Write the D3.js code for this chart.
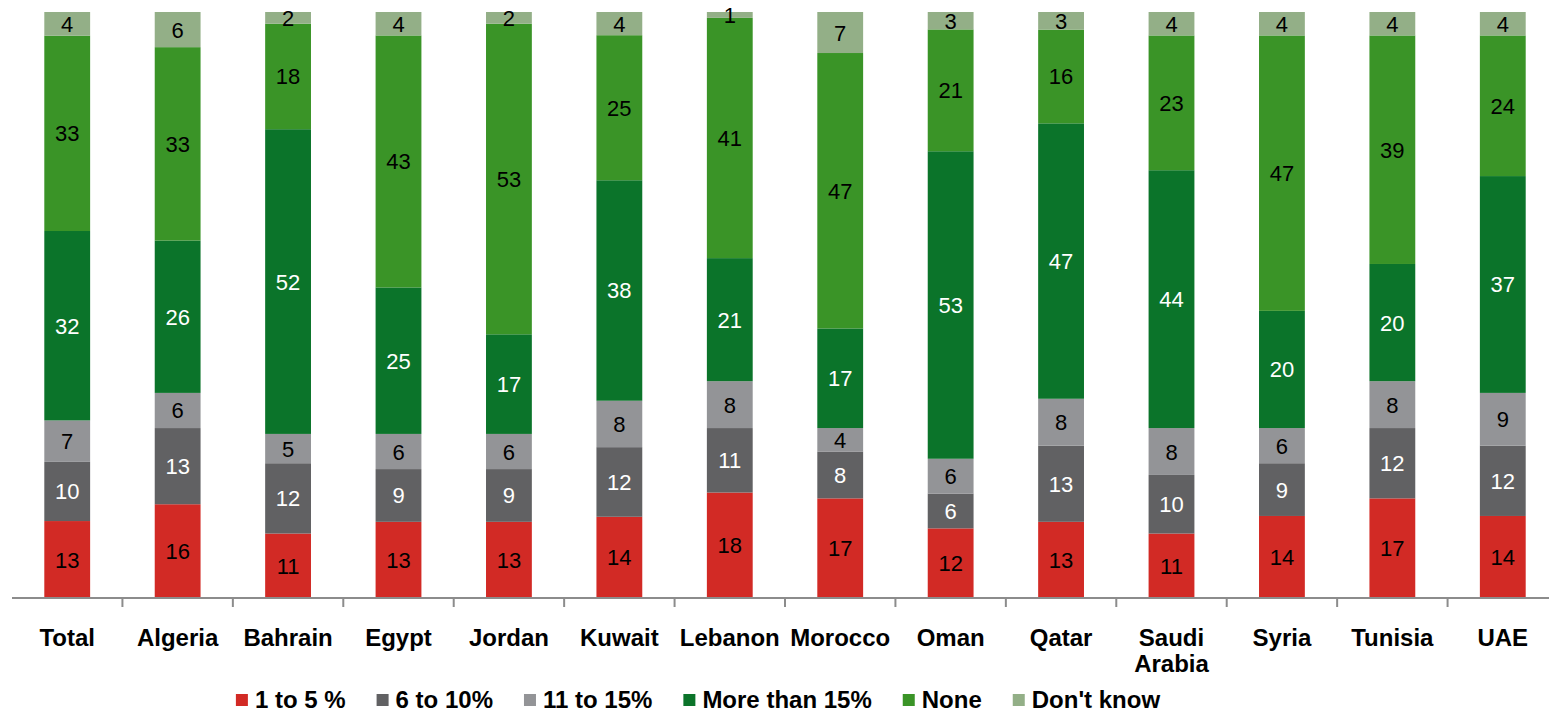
<!DOCTYPE html>
<html>
<head>
<meta charset="utf-8">
<script src="https://cdn.jsdelivr.net/npm/d3@7"></script>
<style>
  html, body { margin: 0; padding: 0; background: #ffffff; }
  svg { display: block; font-family: "Liberation Sans", Arial, sans-serif; }
</style>
</head>
<body>
<svg id="chart" width="1549" height="713"></svg>
<script>
// Survey answers per country, stacked to 100%
const categories = ["Total", "Algeria", "Bahrain", "Egypt", "Jordan", "Kuwait", "Lebanon",
  "Morocco", "Oman", "Qatar", "Saudi Arabia", "Syria", "Tunisia", "UAE"];
const seriesNames = ["1 to 5 %", "6 to 10%", "11 to 15%", "More than 15%", "None", "Don't know"];
const s1to5     = [13, 16, 11, 13, 13, 14, 18, 17, 12, 13, 11, 14, 17, 14];
const s6to10    = [10, 13, 12,  9,  9, 12, 11,  8,  6, 13, 10,  9, 12, 12];
const s11to15   = [ 7,  6,  5,  6,  6,  8,  8,  4,  6,  8,  8,  6,  8,  9];
const sMore15   = [32, 26, 52, 25, 17, 38, 21, 17, 53, 47, 44, 20, 20, 37];
const sNone     = [33, 33, 18, 43, 53, 25, 41, 47, 21, 16, 23, 47, 39, 24];
const sDontKnow = [ 4,  6,  2,  4,  2,  4,  1,  7,  3,  3,  4,  4,  4,  4];

const seriesValues = [s1to5, s6to10, s11to15, sMore15, sNone, sDontKnow];
const colors = ["#d22a25", "#616163", "#939497", "#0b742a", "#3a9427", "#93af87"];
const labelColors = ["#000", "#fff", "#000", "#fff", "#000", "#000"];

const rows = categories.map((c, i) => {
  const r = { category: c };
  seriesNames.forEach((s, k) => { r[s] = seriesValues[k][i]; });
  return r;
});

const svg = d3.select("#chart");
const baseY = 598, topY = 12;

const x = d3.scaleBand()
  .domain(categories)
  .range([12, 1558])
  .paddingInner(0.585)
  .paddingOuter(0.2925);

const y = d3.scaleLinear().domain([0, 1]).range([baseY, topY]);

const stacked = d3.stack().keys(seriesNames).offset(d3.stackOffsetExpand)(rows);

const layers = svg.append("g").selectAll("g")
  .data(stacked)
  .join("g")
  .attr("fill", (d, k) => colors[k]);

layers.selectAll("rect")
  .data(d => d)
  .join("rect")
  .attr("x", d => x(d.data.category))
  .attr("width", x.bandwidth())
  .attr("y", d => y(d[1]))
  .attr("height", d => y(d[0]) - y(d[1]));

// value labels centred in each segment
const labelLayers = svg.append("g").selectAll("g")
  .data(stacked)
  .join("g")
  .attr("fill", (d, k) => labelColors[k]);

labelLayers.each(function (layer) {
  d3.select(this).selectAll("text")
    .data(layer)
    .join("text")
    .attr("x", d => x(d.data.category) + x.bandwidth() / 2)
    .attr("y", d => (y(d[0]) + y(d[1])) / 2 + 8)
    .attr("text-anchor", "middle")
    .attr("font-size", 22)
    .text(d => d.data[layer.key]);
});

// category axis
const axis = svg.append("g");
axis.append("line")
  .attr("x1", 12).attr("x2", 1549)
  .attr("y1", baseY).attr("y2", baseY)
  .attr("stroke", "#8c8c8c").attr("stroke-width", 2);

axis.selectAll("line.tick")
  .data(categories.slice(1))
  .join("line")
  .attr("class", "tick")
  .attr("x1", d => x(d) - x.step() * x.paddingInner() / 2)
  .attr("x2", d => x(d) - x.step() * x.paddingInner() / 2)
  .attr("y1", baseY).attr("y2", baseY + 9)
  .attr("stroke", "#8c8c8c").attr("stroke-width", 2);

axis.selectAll("text")
  .data(categories)
  .join("text")
  .attr("x", d => x(d) + x.bandwidth() / 2)
  .attr("y", 646)
  .attr("text-anchor", "middle")
  .attr("font-size", 24)
  .attr("font-weight", "bold")
  .attr("fill", "#000")
  .each(function (d) {
    const words = d.split(" ");
    const t = d3.select(this);
    words.forEach((w, i) => {
      t.append("tspan")
        .attr("x", x(d) + x.bandwidth() / 2)
        .attr("dy", i === 0 ? 0 : 26)
        .text(w);
    });
  });

// legend
const legend = svg.append("g");
const items = legend.selectAll("g")
  .data(seriesNames)
  .join("g");
items.append("rect")
  .attr("width", 12).attr("height", 12)
  .attr("y", 694)
  .attr("fill", (d, k) => colors[k]);
items.append("text")
  .attr("x", 19)
  .attr("y", 708)
  .attr("font-size", 24)
  .attr("font-weight", "bold")
  .attr("fill", "#000")
  .text(d => d);

let cursor = 0;
const offsets = [];
items.each(function () {
  offsets.push(cursor);
  const w = d3.select(this).select("text").node().getComputedTextLength();
  cursor += 19 + w + 31;
});
const totalW = cursor - 31;
const startX = 698 - totalW / 2;
items.attr("transform", (d, k) => `translate(${startX + offsets[k]},0)`);
</script>
</body>
</html>
